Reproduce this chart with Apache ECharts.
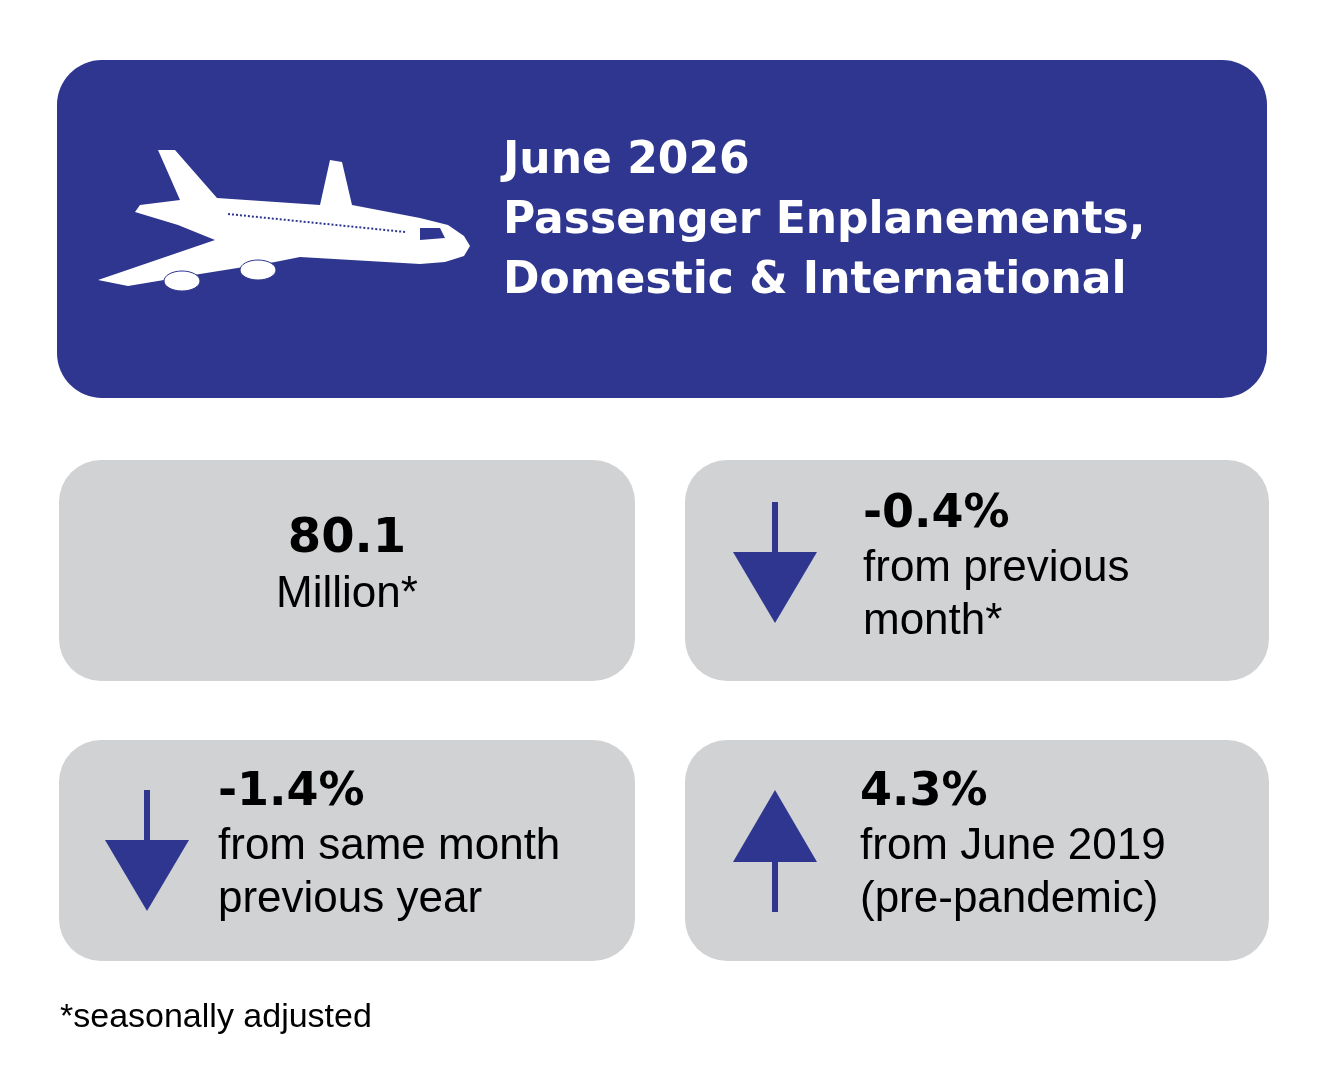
<!DOCTYPE html>
<html><head><meta charset="utf-8">
<script src="https://cdn.jsdelivr.net/npm/echarts@6/dist/echarts.min.js"></script>
<style>html,body{margin:0;padding:0;background:#fff}#c{width:1327px;height:1077px}</style>
</head><body><div id="c"></div>
<script>
const titleLines = ["June 2026", "Passenger Enplanements,", "Domestic & International"];
const headline = ["80.1", "Million*"];
const changes = [
  { value: "-0.4%", dir: "down", lines: ["from previous", "month*"] },
  { value: "-1.4%", dir: "down", lines: ["from same month", "previous year"] },
  { value: "4.3%", dir: "up", lines: ["from June 2019", "(pre-pandemic)"] }
];
const footnote = "*seasonally adjusted";

const BLUE = "#2E3690", GRAY = "#D1D2D4";
const F = "Liberation Sans, Arial, sans-serif";
const FT = "DejaVu Sans, sans-serif";
const el = [];
el.push({type:'rect', shape:{x:57,y:60,width:1210,height:338,r:45}, style:{fill:BLUE}});
titleLines.forEach((t,i)=>el.push({type:'text', x:503, y:162+i*60, style:{text:t, fill:'#fff', font:`bold 44px ${FT}`, textVerticalAlign:'middle'}}));
// plane
el.push({type:'polygon', shape:{points:[[158,150],[175,150],[217,198],[320,205],[330,160],[342,162],[352,205],[420,218],[448,225],[464,236],[470,246],[464,256],[445,262],[420,264],[300,257],[275,262],[200,274],[128,286],[98,280],[215,240],[178,225],[135,212],[140,205],[180,200]]}, style:{fill:'#fff'}});
el.push({type:'ellipse', shape:{cx:182,cy:281,rx:18,ry:10}, style:{fill:'#fff', stroke:BLUE, lineWidth:1}});
el.push({type:'ellipse', shape:{cx:258,cy:270,rx:18,ry:10}, style:{fill:'#fff', stroke:BLUE, lineWidth:1}});
el.push({type:'line', shape:{x1:228,y1:214,x2:405,y2:232}, style:{stroke:BLUE, lineWidth:2, lineDash:[2,2]}});
el.push({type:'polygon', shape:{points:[[420,228],[440,228],[445,238],[420,240]]}, style:{fill:BLUE}});

const boxes = [[59,460],[685,460],[59,740],[685,740]];
boxes.forEach(([x,y])=>el.push({type:'rect', shape:{x:x,y:y,width:(x<600?576:584),height:221,r:42}, style:{fill:GRAY}}));
el.push({type:'text', x:347, y:540, style:{text:headline[0], fill:'#000', font:`bold 48px ${FT}`, textAlign:'center', textVerticalAlign:'middle'}});
el.push({type:'text', x:347, y:595, style:{text:headline[1], fill:'#000', font:`44px ${F}`, textAlign:'center', textVerticalAlign:'middle'}});

const pos = [{ax:775,top:502,tx:863,ty:515},{ax:147,top:790,tx:218,ty:793},{ax:775,top:790,tx:860,ty:793}];
changes.forEach((c,i)=>{
  const p = pos[i], a=p.ax, t=p.top;
  if(c.dir==='down'){
    el.push({type:'rect', shape:{x:a-3,y:t,width:6,height:55}, style:{fill:BLUE}});
    el.push({type:'polygon', shape:{points:[[a-42,t+50],[a+42,t+50],[a,t+121]]}, style:{fill:BLUE}});
  } else {
    el.push({type:'polygon', shape:{points:[[a-42,t+72],[a+42,t+72],[a,t]]}, style:{fill:BLUE}});
    el.push({type:'rect', shape:{x:a-3,y:t+68,width:6,height:54}, style:{fill:BLUE}});
  }
  el.push({type:'text', x:p.tx, y:p.ty, style:{text:c.value, fill:'#000', font:`bold 46px ${FT}`, textVerticalAlign:'middle'}});
  c.lines.forEach((l,j)=>el.push({type:'text', x:p.tx, y:p.ty+54+j*53, style:{text:l, fill:'#000', font:`44px ${F}`, textVerticalAlign:'middle'}}));
});
el.push({type:'text', x:60, y:1018, style:{text:footnote, fill:'#000', font:`34px ${F}`, textVerticalAlign:'middle'}});

const chart = echarts.init(document.getElementById('c'));
chart.setOption({animation:false, graphic:{elements:el}});
</script></body></html>
